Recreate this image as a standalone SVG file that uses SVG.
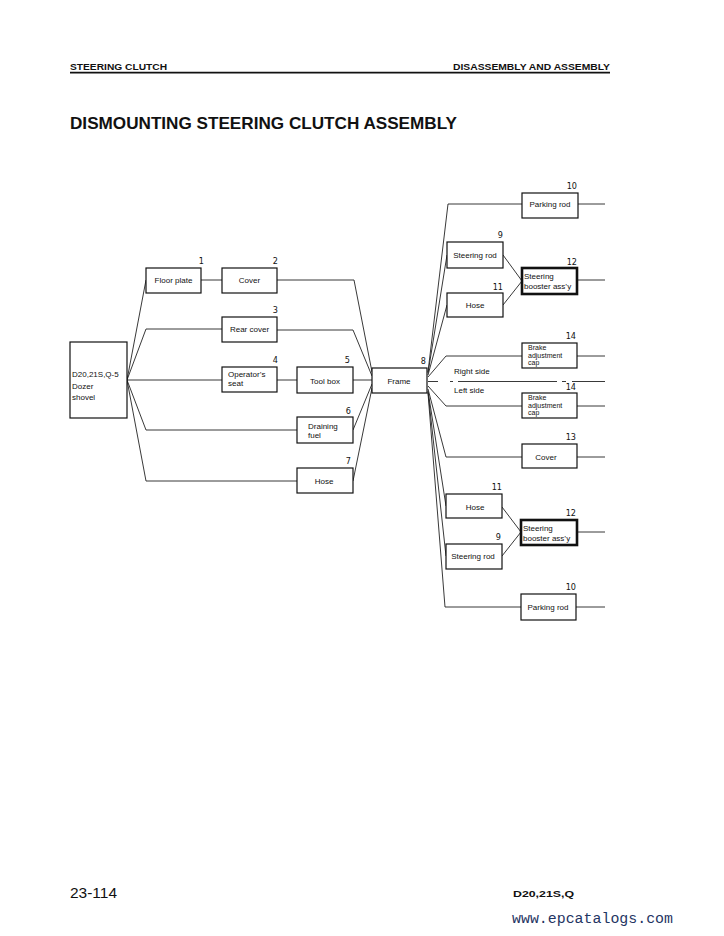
<svg xmlns="http://www.w3.org/2000/svg" width="724" height="936" viewBox="0 0 724 936">
<style>
.bg{fill:#fff}
.box{fill:#fff;stroke:#111;stroke-width:1.2}
.bold{fill:#fff;stroke:#111;stroke-width:2.6}
.ln{fill:none;stroke:#222;stroke-width:0.9}
.t{font-family:"Liberation Sans",Arial,sans-serif;font-size:8px;fill:#111}
.s{font-size:7px}
.c{text-anchor:middle}
.n{font-family:"DejaVu Sans Condensed","DejaVu Sans",sans-serif;font-stretch:condensed;font-size:9px;fill:#111;text-anchor:end}
.h{font-family:"Liberation Sans",Arial,sans-serif;font-weight:bold;fill:#111}
</style>
<rect class="bg" x="0" y="0" width="724" height="936"/>

<g id="header">
<text class="h" x="70" y="70" font-size="9.5" textLength="97" lengthAdjust="spacingAndGlyphs">STEERING CLUTCH</text>
<text class="h" x="610" y="70" font-size="9.5" text-anchor="end" textLength="157" lengthAdjust="spacingAndGlyphs">DISASSEMBLY AND ASSEMBLY</text>
<line x1="70" y1="72.7" x2="610" y2="72.7" stroke="#111" stroke-width="1.8"/>
<text class="h" x="70" y="129" font-size="16.5" textLength="387" lengthAdjust="spacingAndGlyphs">DISMOUNTING STEERING CLUTCH ASSEMBLY</text>
</g>

<g id="connectors">
<path class="ln" d="M127,380 L146,280"/>
<path class="ln" d="M127,380 L146,329 L222,329"/>
<path class="ln" d="M127,380 L222,380"/>
<path class="ln" d="M127,380 L146,430 L297,430"/>
<path class="ln" d="M127,380 L146,481 L297,481"/>
<path class="ln" d="M201,280 L222,280"/>
<path class="ln" d="M277,380 L297,380"/>
<path class="ln" d="M353,380 L372,380"/>
<path class="ln" d="M277,280 L354,280 L372,372"/>
<path class="ln" d="M277,330 L353,330 L372,376"/>
<path class="ln" d="M353,430 L372,384"/>
<path class="ln" d="M353,481 L372,388"/>
<path class="ln" d="M428,372 L448,204 L522,204"/>
<path class="ln" d="M428,373 L447,255"/>
<path class="ln" d="M428,375 L447,305"/>
<path class="ln" d="M428,377 L446,356 L522,356"/>
<path class="ln" d="M428,386 L446,406 L522,406"/>
<path class="ln" d="M428,389 L446,457 L522,457"/>
<path class="ln" d="M428,391 L446,506"/>
<path class="ln" d="M428,392 L446,556"/>
<path class="ln" d="M428,393 L445,607 L521,607"/>
<path class="ln" d="M503,255 L522,281"/>
<path class="ln" d="M503,305 L522,281"/>
<path class="ln" d="M502,507 L521,532"/>
<path class="ln" d="M502,556 L521,532"/>
<path class="ln" d="M578,204 L605,204"/>
<path class="ln" d="M578,280 L605,280"/>
<path class="ln" d="M577,356 L605,356"/>
<path class="ln" d="M577,406 L605,406"/>
<path class="ln" d="M577,457 L605,457"/>
<path class="ln" d="M577,532 L605,532"/>
<path class="ln" d="M576,607 L605,607"/>
<path class="ln" d="M428,381.5 L438,381.5 M450,381.5 L453,381.5 M458,381.5 L557,381.5 M562,381.5 L566,381.5 M572,381.5 L605,381.5" stroke="#555" stroke-width="0.7"/>
</g>

<g id="dozer">
<rect class="box" x="70" y="342" width="57" height="76"/>
<text class="t" x="72" y="377" font-size="8.5">D20,21S,Q-5</text>
<text class="t" x="72" y="389" font-size="8.5">Dozer</text>
<text class="t" x="72" y="400" font-size="8.5">shovel</text>
</g>
<g id="n1"><rect class="box" x="146" y="268" width="55" height="25"/><text class="t c" x="173.5" y="283">Floor plate</text><text class="n" x="204" y="264">1</text></g>
<g id="n2"><rect class="box" x="222" y="268" width="55" height="25"/><text class="t c" x="249.5" y="283">Cover</text><text class="n" x="278" y="264">2</text></g>
<g id="n3"><rect class="box" x="222" y="317" width="55" height="25"/><text class="t c" x="249.5" y="332">Rear cover</text><text class="n" x="278" y="313">3</text></g>
<g id="n4"><rect class="box" x="222" y="367" width="55" height="25"/><text class="t" x="228" y="377">Operator’s</text><text class="t" x="228" y="386">seat</text><text class="n" x="278" y="363">4</text></g>
<g id="n5"><rect class="box" x="297" y="367" width="56" height="26"/><text class="t c" x="325" y="384">Tool box</text><text class="n" x="350" y="363">5</text></g>
<g id="n6"><rect class="box" x="297" y="417" width="56" height="26"/><text class="t" x="308" y="429">Draining</text><text class="t" x="308" y="438">fuel</text><text class="n" x="351" y="414">6</text></g>
<g id="n7"><rect class="box" x="297" y="468" width="56" height="25"/><text class="t c" x="324" y="484">Hose</text><text class="n" x="351" y="464">7</text></g>
<g id="n8"><rect class="box" x="372" y="368" width="55" height="25"/><text class="t c" x="399" y="384">Frame</text><text class="n" x="426" y="364">8</text></g>

<g id="n10a"><rect class="box" x="522" y="193" width="56" height="25"/><text class="t c" x="550" y="207">Parking rod</text><text class="n" x="577" y="189">10</text></g>
<g id="n9a"><rect class="box" x="447" y="242" width="56" height="26"/><text class="t c" x="475" y="258">Steering rod</text><text class="n" x="503" y="238">9</text></g>
<g id="n12a"><rect class="bold" x="522" y="268" width="55" height="26"/><text class="t" x="524" y="279">Steering</text><text class="t" x="524" y="289">booster ass’y</text><text class="n" x="577" y="265">12</text></g>
<g id="n11a"><rect class="box" x="447" y="293" width="56" height="24"/><text class="t c" x="475" y="308">Hose</text><text class="n" x="503" y="290">11</text></g>
<g id="n14a"><rect class="box" x="522" y="343" width="55" height="25"/><text class="t s" x="528" y="350">Brake</text><text class="t s" x="528" y="357.5">adjustment</text><text class="t s" x="528" y="365">cap</text><text class="n" x="576" y="339">14</text></g>
<text class="t" x="454" y="374">Right side</text>
<text class="t" x="454" y="393">Left side</text>
<g id="n14b"><rect class="box" x="522" y="393" width="55" height="25"/><text class="t s" x="528" y="400">Brake</text><text class="t s" x="528" y="407.5">adjustment</text><text class="t s" x="528" y="415">cap</text><text class="n" x="576" y="390">14</text></g>
<g id="n13"><rect class="box" x="522" y="444" width="55" height="24"/><text class="t c" x="546" y="460">Cover</text><text class="n" x="576" y="440">13</text></g>
<g id="n11b"><rect class="box" x="446" y="494" width="56" height="24"/><text class="t c" x="475" y="510">Hose</text><text class="n" x="502" y="490">11</text></g>
<g id="n12b"><rect class="bold" x="521" y="520" width="56" height="25"/><text class="t" x="523" y="531">Steering</text><text class="t" x="523" y="541">booster ass’y</text><text class="n" x="576" y="516">12</text></g>
<g id="n9b"><rect class="box" x="446" y="544" width="56" height="25"/><text class="t c" x="473" y="559">Steering rod</text><text class="n" x="501" y="540">9</text></g>
<g id="n10b"><rect class="box" x="521" y="594" width="55" height="26"/><text class="t c" x="548" y="610">Parking rod</text><text class="n" x="576" y="590">10</text></g>

<g id="footer">
<text x="70" y="898" font-family="Liberation Sans,Arial,sans-serif" font-size="15" fill="#111" textLength="47" lengthAdjust="spacingAndGlyphs">23-114</text>
<text class="h" x="513" y="897" font-size="9" textLength="61" lengthAdjust="spacingAndGlyphs">D20,21S,Q</text>
<text x="512" y="923" font-family="Liberation Mono,Courier New,monospace" font-size="14.5" fill="#1f3563" textLength="161" lengthAdjust="spacingAndGlyphs">www.epcatalogs.com</text>
</g>
</svg>
